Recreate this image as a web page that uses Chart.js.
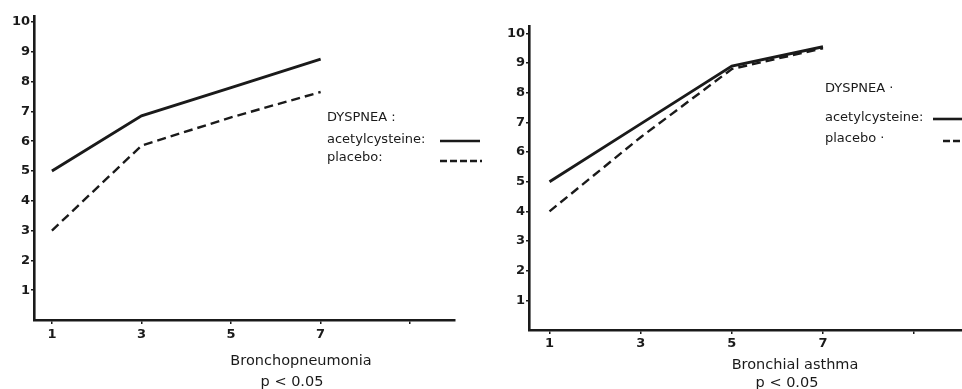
<!DOCTYPE html>
<html>
<head>
<meta charset="utf-8">
<script src="https://cdn.jsdelivr.net/npm/chart.js@4"></script>
<style>
body { margin: 0; background: #fff; width: 962px; height: 389px; overflow: hidden; position: relative;
       font-family: "DejaVu Sans", sans-serif; color: #1a1a1a; }
canvas { position: absolute; top: 0; }
.t { position: absolute; font-size: 13px; white-space: nowrap; line-height: 16px; }
.c { transform: translateX(-50%); font-size: 14.5px; }
</style>
</head>
<body>
<canvas id="pneu" width="490" height="389" style="left:0"></canvas>
<canvas id="asthma" width="472" height="389" style="left:490px"></canvas>

<div class="t" style="left:327px;top:109px">DYSPNEA :</div>
<div class="t" style="left:327px;top:131px">acetylcysteine:</div>
<div class="t" style="left:327px;top:149px">placebo:</div>
<div class="t c" style="left:301px;top:352px">Bronchopneumonia</div>
<div class="t c" style="left:292px;top:373px">p &lt; 0.05</div>

<div class="t" style="left:825px;top:80px">DYSPNEA ·</div>
<div class="t" style="left:825px;top:109px">acetylcysteine:</div>
<div class="t" style="left:825px;top:130px">placebo ·</div>
<div class="t c" style="left:795px;top:356px">Bronchial asthma</div>
<div class="t c" style="left:787px;top:374px">p &lt; 0.05</div>

<script>
// ticks shared by both panels
var xTicks = [1, 3, 5, 7, 9];
var xLabels = ['1', '3', '5', '7', ''];
var yTicks = [1, 2, 3, 4, 5, 6, 7, 8, 9, 10];

// dyspnea score, bronchopneumonia
var pneuDays = [1, 3, 5, 7];
var pneuAcetyl = [5, 6.85, 7.8, 8.75];
var pneuPlacebo = [3, 5.85, 6.8, 7.65];

// dyspnea score, bronchial asthma
var asthmaDays = [1, 3, 5, 7];
var asthmaAcetyl = [5, 6.95, 8.9, 9.55];
var asthmaPlacebo = [4, 6.5, 8.8, 9.5];

var ink = '#1a1a1a';

// little line samples next to the legend text
var keyLines = {
  id: 'keyLines',
  afterDraw: function (chart, args, opts) {
    var ctx = chart.ctx;
    ctx.save();
    ctx.strokeStyle = ink;
    ctx.lineWidth = 2.6;
    opts.lines.forEach(function (l) {
      ctx.setLineDash(l.dash);
      ctx.beginPath();
      ctx.moveTo(l.x1, l.y);
      ctx.lineTo(l.x2, l.y);
      ctx.stroke();
    });
    ctx.restore();
  }
};

function points(xs, ys) {
  return xs.map(function (x, i) { return { x: x, y: ys[i] }; });
}

function makeChart(id, days, acetyl, placebo, box) {
  return new Chart(document.getElementById(id).getContext('2d'), {
    type: 'line',
    data: {
      datasets: [
        { label: 'acetylcysteine', data: points(days, acetyl), borderColor: ink, borderWidth: 2.9 },
        { label: 'placebo', data: points(days, placebo), borderColor: ink, borderWidth: 2.4, borderDash: [9, 5] }
      ]
    },
    options: {
      responsive: false,
      animation: false,
      layout: { padding: { top: box.top, right: box.right, left: 0, bottom: 0 } },
      elements: { point: { radius: 0 }, line: { tension: 0 } },
      plugins: { legend: { display: false }, tooltip: { enabled: false }, keyLines: { lines: box.keys } },
      scales: {
        x: {
          type: 'linear', min: box.xMin, max: box.xMax,
          afterBuildTicks: function (s) { s.ticks = xTicks.map(function (v) { return { value: v }; }); },
          afterFit: function (s) { s.height = box.bottomH; },
          ticks: {
            autoSkip: false, maxRotation: 0, padding: box.xPad, color: ink,
            font: { family: 'DejaVu Sans', size: 13, weight: 'bold' },
            callback: function (v) { return xLabels[xTicks.indexOf(v)]; }
          },
          grid: { drawOnChartArea: false, drawTicks: true, tickLength: 4, color: ink, lineWidth: 1.5 },
          border: { display: true, color: ink, width: 2.6 }
        },
        y: {
          type: 'linear', min: 0, max: box.yMax,
          afterBuildTicks: function (s) { s.ticks = yTicks.map(function (v) { return { value: v }; }); },
          afterFit: function (s) { s.width = box.axisW; },
          ticks: {
            padding: 1, color: ink,
            font: { family: 'DejaVu Sans', size: 13, weight: 'bold' }
          },
          grid: { drawOnChartArea: false, drawTicks: true, tickLength: 3, color: ink, lineWidth: 1.5 },
          border: { display: true, color: ink, width: 2.6 }
        }
      }
    },
    plugins: [keyLines]
  });
}

makeChart('pneu', pneuDays, pneuAcetyl, pneuPlacebo, {
  axisW: 34, bottomH: 69, top: 16, right: 35, xMin: 0.6, xMax: 10, yMax: 10.2, xPad: 3,
  keys: [{ x1: 440, x2: 480, y: 141, dash: [] }, { x1: 440, x2: 482, y: 161, dash: [7, 3] }]
});

makeChart('asthma', asthmaDays, asthmaAcetyl, asthmaPlacebo, {
  axisW: 39, bottomH: 59, top: 26, right: 0, xMin: 0.55, xMax: 10.05, yMax: 10.25, xPad: 2,
  keys: [{ x1: 443, x2: 472, y: 119, dash: [] }, { x1: 453, x2: 472, y: 141, dash: [7, 3] }]
});
</script>
</body>
</html>
